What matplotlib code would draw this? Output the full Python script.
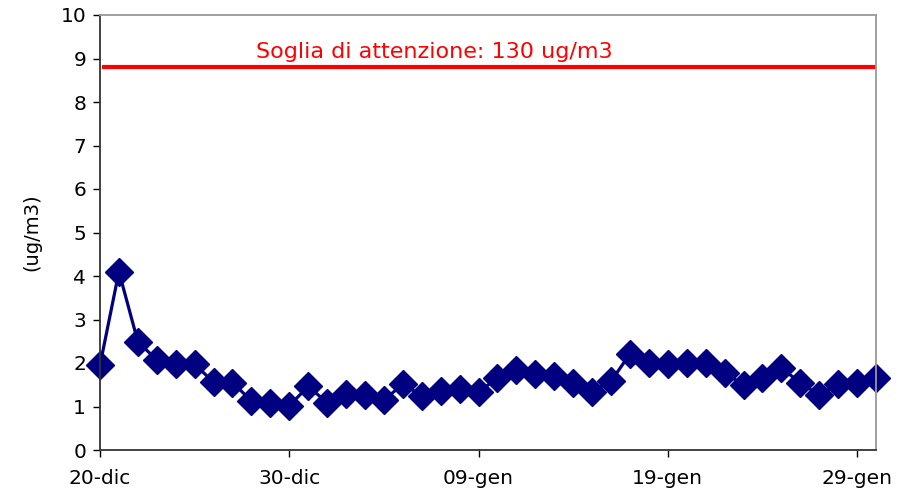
import numpy as np
import matplotlib.pyplot as plt

plt.rcParams['font.family'] = ['DejaVu Sans']

# daily values from 20-dic to 30-gen
valori = [1.95, 4.1, 2.49, 2.07, 1.98, 1.97, 1.56, 1.55, 1.13, 1.09,
          1.02, 1.46, 1.09, 1.29, 1.27, 1.15, 1.51, 1.25, 1.36, 1.40,
          1.34, 1.65, 1.84, 1.75, 1.71, 1.53, 1.34, 1.58, 2.21, 2.01,
          1.97, 2.01, 2.01, 1.78, 1.49, 1.65, 1.88, 1.55, 1.26, 1.51,
          1.55, 1.65]
giorni = np.arange(len(valori))
tick_pos = [0, 10, 20, 30, 40]
tick_lab = ['20-dic', '30-dic', '09-gen', '19-gen', '29-gen']
soglia = 8.8
soglia_testo = 'Soglia di attenzione: 130 ug/m3'

fig = plt.figure(figsize=(9.07, 4.99), dpi=100)
ax = fig.add_axes([100/907, 1 - 450/499, 776/907, 435/499])

ax.plot([0.2, 41], [soglia, soglia], color='#ff0000', linewidth=3, zorder=1)
ax.plot(giorni, valori, color='#000080', linewidth=2.3, marker='D',
        markersize=14, markeredgecolor='#000080', zorder=2, clip_on=False)
ax.text(8.25, 9.0, soglia_testo, color='#ff0000', fontsize=16, va='baseline')

ax.set_xlim(0, 41)
ax.set_ylim(0, 10)
ax.set_yticks(range(11))
ax.set_xticks(tick_pos)
ax.set_xticklabels(tick_lab)
ax.tick_params(direction='out', length=5, width=1, labelsize=14.5)
ax.tick_params(axis='x', pad=9)
ax.tick_params(axis='y', pad=5)
ax.set_ylabel('(ug/m3)', fontsize=14, labelpad=14)
for s in ['left', 'bottom']:
    ax.spines[s].set_color('#333333')
    ax.spines[s].set_linewidth(1.3)
for s in ['top', 'right']:
    ax.spines[s].set_color('#999999')
    ax.spines[s].set_linewidth(1.3)

plt.savefig('out.png', dpi=100)
